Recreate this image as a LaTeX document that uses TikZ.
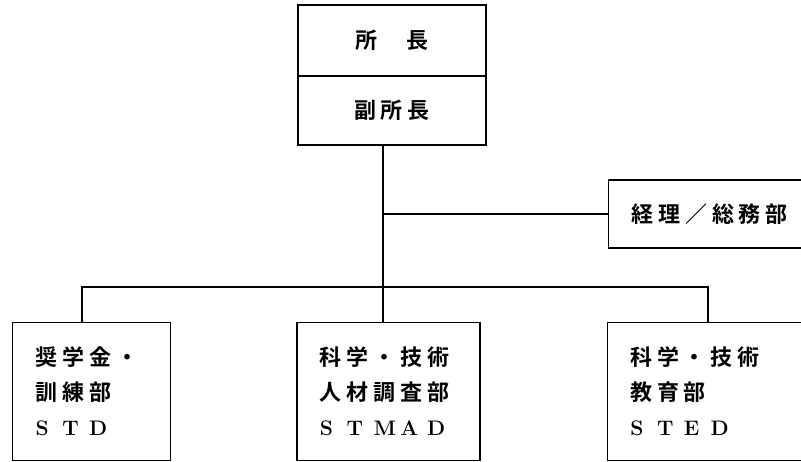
\documentclass[tikz,border=0pt]{standalone}
\usepackage{fontspec}
\usetikzlibrary{positioning}
\newfontfamily\jp{Noto Sans CJK JP}[BoldFont={Noto Sans CJK JP Bold},LetterSpace=22]
\newcommand{\fw}[1]{\makebox[26.8pt][l]{\rmfamily\bfseries\fontsize{21}{35}\selectfont #1}}

\begin{document}
\begin{tikzpicture}[
  x=1pt, y=-1pt,
  line width=1.3pt,
  node distance=0pt and 125pt,
  headbox/.style={draw,outer sep=0pt,minimum width=188pt,minimum height=71pt,inner sep=0pt,
    font=\jp\bfseries\fontsize{22}{35}\selectfont},
  deptbox/.style={draw,minimum height=138pt,inner xsep=23pt,align=left,
    font=\jp\bfseries\fontsize{22}{35}\selectfont},
]
\useasboundingbox (0,0) rectangle (801,462);
\node[headbox,anchor=north west] (chief) at (298,5) {所\hspace{30pt}長};
\node[headbox,below=of chief,minimum height=69pt] (deputy) {副所長};
\node[deptbox,anchor=west,minimum height=68pt,text width=176pt] (admin) at (608,214)
  {経理／総務部};
\node[deptbox,anchor=north west,text width=112pt] (std) at (12,322)
  {奨学金・\\訓練部\\\fw{S}\fw{T}\fw{D}};
\node[deptbox,right=of std,text width=137pt] (stmad)
  {科学・技術\\人材調査部\\\fw{S}\fw{T}\fw{M}\fw{A}\fw{D}};
\node[deptbox,right=126pt of stmad,text width=176pt] (sted)
  {科学・技術\\教育部\\\fw{S}\fw{T}\fw{E}\fw{D}};

\coordinate (trunk) at (383,287);
\coordinate (busL) at (82,287);
\coordinate (busR) at (708,287);
\draw (deputy.south -| trunk) -- (trunk |- stmad.north);
\draw (trunk |- admin.west) -- (admin.west);
\draw (busL |- std.north) -- (busL) -- (busR) -- (busR |- sted.north);
\end{tikzpicture}
\end{document}
